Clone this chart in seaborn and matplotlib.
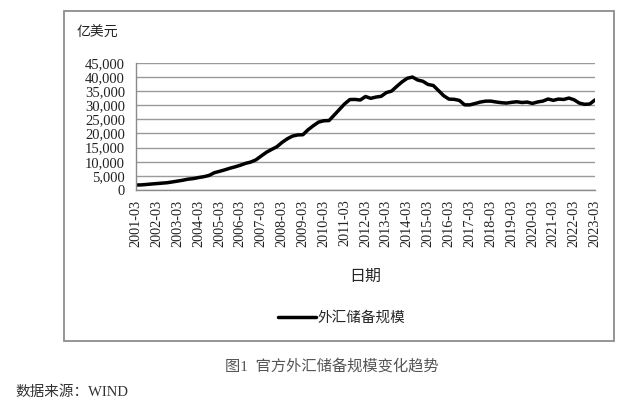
import matplotlib
matplotlib.use("Agg")
import matplotlib.pyplot as plt
import seaborn as sns
import pandas as pd
import numpy as np
from matplotlib.patches import Rectangle

# ---- data (quarterly, 亿美元) ----
years = list(range(2001, 2024))
quarters = ["03", "06", "09", "12"]
dates = [f"{y}-{q}" for y in years for q in quarters][:89]
reserves = [
    1758, 1805, 1956, 2122,
    2274, 2427, 2580, 2864,
    3160, 3465, 3839, 4033,
    4401, 4705, 5145, 6099,
    6591, 7110, 7690, 8189,
    8751, 9411, 9879, 10663,
    12020, 13326, 14336, 15282,
    16822, 18088, 19056, 19460,
    19537, 21316, 22726, 23992,
    24471, 24543, 26483, 28473,
    30447, 31975, 32017, 31811,
    33050, 32400, 32851, 33116,
    34426, 34967, 36627, 38213,
    39481, 39932, 38877, 38430,
    37300, 36938, 35141, 33304,
    32126, 32052, 31664, 30105,
    30091, 30568, 31085, 31399,
    31428, 31121, 30870, 30727,
    30988, 31192, 30924, 31079,
    30606, 31123, 31426, 32165,
    31700, 32140, 32006, 32502,
    31880, 30713, 30290, 30400,
    31839,
]
tick_labels = [f"{y}-03" for y in years]
y_ticks = list(range(0, 45001, 5000))
series_name = "外汇储备规模"

df = pd.DataFrame({"idx": np.arange(len(dates)), "date": dates, "value": reserves})

sns.set_theme(style="white")
plt.rcParams["font.family"] = ["Liberation Serif", "Noto Sans CJK SC", "DejaVu Sans"]

fig = plt.figure(figsize=(6.4, 4.08), dpi=100)
W, H = 640, 408
ax = fig.add_axes([136 / W, 1 - 190 / H, (595 - 136) / W, (190 - 62.7) / H])

sns.lineplot(data=df, x="idx", y="value", ax=ax, color="black", linewidth=2.5,
             label=series_name, legend=False)

ax.set_xlim(0, len(dates) - 1)
ax.set_ylim(0, 45000)
ax.set_yticks(y_ticks)
ax.set_yticklabels([f"{v:,}" for v in y_ticks], fontsize=10.5)
ax.set_xticks([dates.index(t) for t in tick_labels])
ax.set_xticklabels(tick_labels, rotation=90, fontsize=10.3)
ax.grid(axis="y", color="#9a9a9a", linewidth=1.0)
ax.set_axisbelow(True)
for s in ["top", "right"]:
    ax.spines[s].set_visible(False)
for s in ["left", "bottom"]:
    ax.spines[s].set_color("#8a8a8a")
    ax.spines[s].set_linewidth(1.0)
ax.tick_params(axis="both", which="major", direction="out", length=4, width=1,
               color="#8a8a8a", labelcolor="#222222")
ax.tick_params(axis="x", pad=3)
ax.tick_params(axis="y", pad=4)
ax.set_xlabel("日期", fontsize=11.5, family=["Noto Sans CJK SC"], labelpad=15)
ax.set_ylabel("")

fig.text(77 / W, 1 - 33 / H, "亿美元", fontsize=10, family=["Noto Sans CJK SC"],
         va="center", ha="left", color="#222222")

handles, labels = ax.get_lines(), [series_name]
leg = fig.legend(handles[:1], labels, loc="center", bbox_to_anchor=(342 / W, 1 - 318 / H),
                 frameon=False, handlelength=2.6, handletextpad=0.1,
                 prop={"family": "Noto Sans CJK SC", "size": 10.5})

fig.patches.append(Rectangle((63.5 / W, 1 - 341 / H), (614 - 63.5) / W, (341 - 11) / H,
                             transform=fig.transFigure, fill=False,
                             edgecolor="#8c8c8c", linewidth=1.3))

fig.text(332 / W, 1 - 366 / H, "图1  官方外汇储备规模变化趋势", fontsize=11,
         family=["Liberation Serif", "Noto Sans CJK SC"], color="#555555",
         ha="center", va="center")
fig.text(15 / W, 1 - 392 / H, "数据来源：WIND", fontsize=10.5,
         family=["Liberation Serif", "Noto Sans CJK SC"], color="#333333",
         ha="left", va="center")

fig.savefig("out.png", dpi=100)
